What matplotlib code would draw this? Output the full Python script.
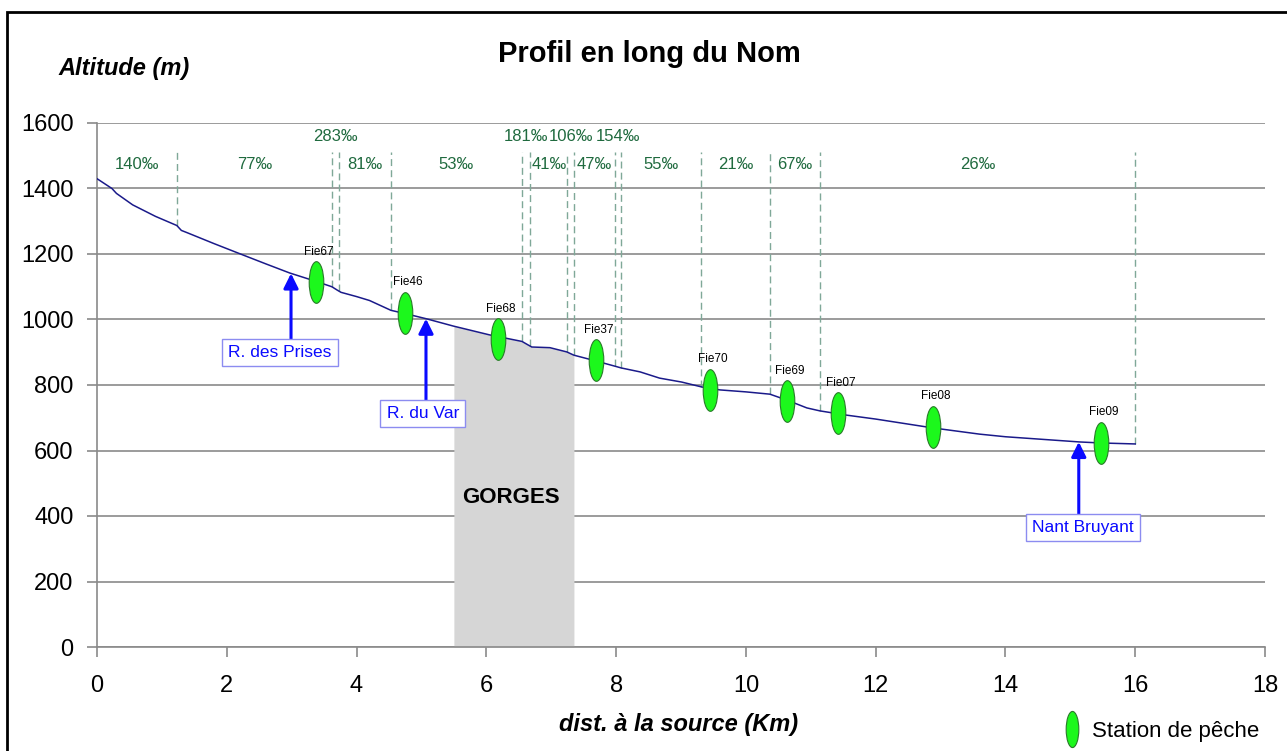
#!/usr/bin/env python3
"""Profil en long du Nom - altitude vs distance a la source"""

import numpy as np
import matplotlib
matplotlib.use("Agg")
import matplotlib.pyplot as plt
from matplotlib.path import Path
from matplotlib.lines import Line2D
from matplotlib.patches import Rectangle

plt.rcParams['font.family'] = ['Liberation Sans', 'DejaVu Sans']

# river profile (km from source, altitude m)
dist = [0.00, 0.23, 0.30, 0.55, 0.90, 1.23, 1.30, 1.39, 1.80, 2.25, 2.60, 2.97,
        3.35, 3.62, 3.70, 3.76, 4.00, 4.20, 4.53, 4.75, 5.08, 5.49, 6.05, 6.55,
        6.62, 6.70, 6.98, 7.24, 7.35, 7.64, 7.99, 8.08, 8.37, 8.67, 9.01, 9.32,
        9.60, 10.00, 10.37, 10.63, 10.94, 11.14, 11.55, 12.00, 12.88, 13.60,
        14.00, 15.15, 15.47, 16.00]
alt = [1430, 1400, 1385, 1350, 1315, 1287, 1272, 1265, 1232, 1197, 1170, 1142,
       1118, 1100, 1090, 1083, 1070, 1058, 1028, 1018, 1002, 980, 953, 933,
       925, 916, 914, 901, 891, 876, 857, 852, 840, 821, 809, 794,
       785, 779, 772, 754, 730, 721, 708, 696, 669, 650,
       642, 626, 623, 620]

# slope breaks and slopes (per mille) between them
breaks = [0.0, 1.24, 3.62, 3.73, 4.53, 6.55, 6.68, 7.25, 7.35, 7.99, 8.08,
          9.31, 10.37, 11.14, 16.0]
slopes = [140, 77, 283, 81, 53, 181, 41, 106, 47, 154, 55, 21, 67, 26]

# fishing stations
stations = ["Fie67", "Fie46", "Fie68", "Fie37", "Fie70", "Fie69", "Fie07",
            "Fie08", "Fie09"]
station_km = [3.38, 4.75, 6.18, 7.69, 9.45, 10.63, 11.42, 12.88, 15.47]
station_alt = [1114, 1020, 940, 876, 785, 750, 714, 672, 623]

# tributaries
tributaries = ["R. des Prises", "R. du Var", "Nant Bruyant"]
trib_km = [2.99, 5.07, 15.13]

gorge = (5.50, 7.35)

# colours
PROFILE = "#1a1a8a"
GRID = "#8a8a8a"
DASH = "#7fa898"
SLOPE_TXT = "#1f6a3e"
GREEN = "#1cf81c"
BLUE = "#0a0aff"

fig = plt.figure(figsize=(12.87, 7.51), dpi=100)
W, H = 1287, 751
ax = fig.add_axes([97 / W, 1 - 647 / H, (1265 - 97) / W, (647 - 123) / H])
ax.set_xlim(0, 18)
ax.set_ylim(0, 1600)

# outer frame of the figure
fig.patches.append(Rectangle((7 / W, -0.2), 1.2, 1 - 12 / H + 0.2,
                             transform=fig.transFigure, fill=False,
                             edgecolor="black", linewidth=2, zorder=0))

# grid and axes
ax.set_yticks(range(0, 1601, 200))
ax.set_xticks(range(0, 19, 2))
ax.yaxis.grid(True, color=GRID, linewidth=1.2)
ax.set_axisbelow(True)
for side in ("top", "right"):
    ax.spines[side].set_visible(False)
for side in ("left", "bottom"):
    ax.spines[side].set_color(GRID)
    ax.spines[side].set_linewidth(1.2)
ax.tick_params(axis="both", direction="out", length=7, color=GRID,
               labelsize=17, width=1.2)
ax.tick_params(axis="x", pad=13)
ax.tick_params(axis="y", pad=10)

# gorges
gx = np.linspace(gorge[0], gorge[1], 200)
gy = np.interp(gx, dist, alt)
ax.fill_between(gx, 0, gy, color="#d6d6d6", linewidth=0, zorder=1)
ax.text(sum(gorge) / 2 - 0.04, 458, "GORGES", ha="center", va="center",
        fontsize=16, fontweight="bold", zorder=2)

# slope break lines
for b in breaks[1:]:
    ax.vlines(b, np.interp(b, dist, alt), 1510, colors=DASH, linewidth=1,
              linestyles=(0, (5, 3)), zorder=2)

# slope labels
for i, s in enumerate(slopes):
    x0, x1 = breaks[i], breaks[i + 1]
    y = 1560 if (x1 - x0) < 0.2 else 1472
    ax.text((x0 + x1) / 2, y, f"{s}‰", ha="center", va="center",
            fontsize=12, color=SLOPE_TXT, zorder=3)

# profile
ax.plot(dist, alt, color=PROFILE, linewidth=1.1, zorder=4)

# ellipse marker
circ = Path.unit_circle()
ellipse = Path(circ.vertices * np.array([0.35, 1.0]), circ.codes)

ax.plot(station_km, station_alt, linestyle="none", marker=ellipse,
        markersize=30, markerfacecolor=GREEN, markeredgecolor="#2a7a2a",
        markeredgewidth=0.8, zorder=6)
for name, x, y in zip(stations, station_km, station_alt):
    ax.annotate(name, (x, y), xytext=(2, 22), textcoords="offset points",
                ha="center", va="center", fontsize=8.5, zorder=6)

# tributary arrows and boxes
box_pos = [(2.82, 898), (5.02, 714), (15.19, 366)]
for name, x, (bx, by) in zip(tributaries, trib_km, box_pos):
    y_tip = np.interp(x, dist, alt)
    ax.annotate("", xy=(x, y_tip), xytext=(x, by + 34),
                arrowprops=dict(arrowstyle="-|>", color=BLUE, lw=2.2,
                                mutation_scale=22, shrinkA=0, shrinkB=0),
                zorder=7)
    ax.text(bx, by, name, ha="center", va="center", fontsize=12.5, color=BLUE,
            zorder=8,
            bbox=dict(boxstyle="square,pad=0.35", facecolor="white",
                      edgecolor="#8c8cf0", linewidth=1))

# titles
fig.text(649 / W, 1 - 54 / H, "Profil en long du Nom", ha="center",
         va="center", fontsize=21, fontweight="bold")
fig.text(124 / W, 1 - 69 / H, "Altitude (m)", ha="center", va="center",
         fontsize=17, fontweight="bold", fontstyle="italic")
fig.text(679 / W, 1 - 724 / H, "dist. à la source (Km)", ha="center",
         va="center", fontsize=17, fontweight="bold", fontstyle="italic")

# legend
handle = Line2D([], [], linestyle="none", marker=ellipse, markersize=26,
                markerfacecolor=GREEN, markeredgecolor="#2a7a2a",
                markeredgewidth=0.8)
fig.legend(handles=[handle], labels=["Station de pêche"], loc="center left",
           bbox_to_anchor=(1059 / W, 1 - 731 / H), frameon=False,
           fontsize=16, handlelength=1.2, handletextpad=0.3,
           borderpad=0, borderaxespad=0)

fig.savefig("out.png", dpi=100)
